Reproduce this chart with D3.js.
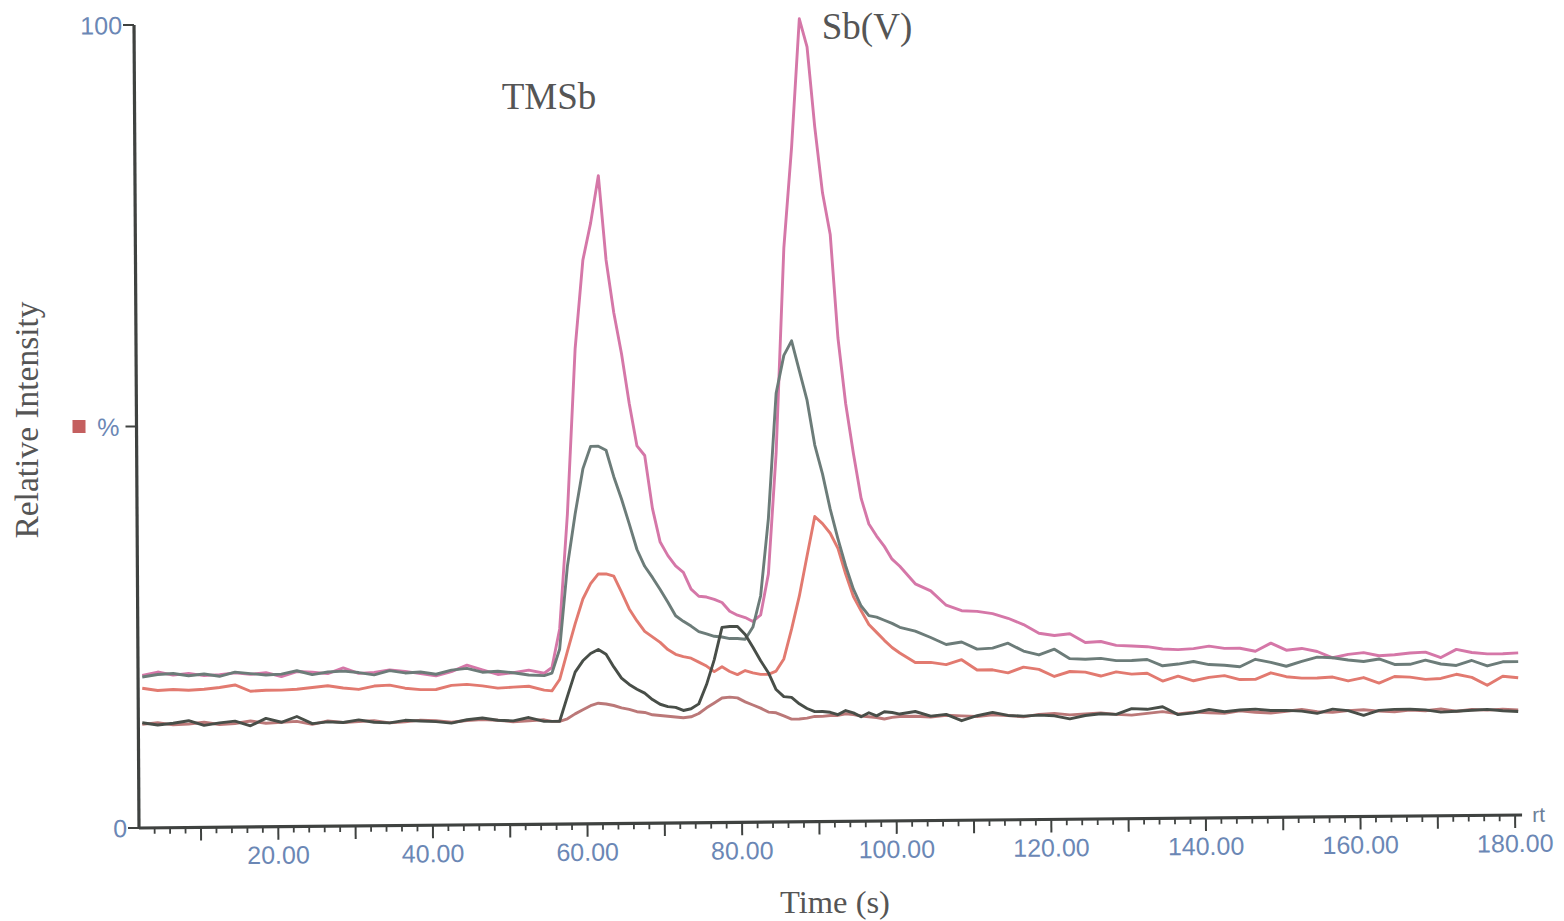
<!DOCTYPE html>
<html><head><meta charset="utf-8">
<script src="https://cdn.jsdelivr.net/npm/d3@7"></script>
<style>html,body{margin:0;padding:0;background:#fff;} svg{display:block;}</style>
</head><body><svg id="chart" width="1564" height="921"></svg>
<script>
// ---- data ----
const times = [
  2.4,4.4,6.4,8.4,10.4,12.4,14.4,16.4,18.4,20.4,22.4,24.4,26.4,28.4,30.4,32.4,34.4,36.4,38.4,40.4,42.4,44.4,46.4,48.4,50.4,52.4,54.4,
  55.4,56.4,57.4,58.4,59.4,60.4,61.4,62.4,63.4,64.4,65.4,66.4,67.4,68.4,69.4,70.4,71.4,72.4,73.4,74.4,75.4,76.4,77.4,78.4,79.4,80.4,
  81.4,82.4,83.4,84.4,85.4,86.4,87.4,88.4,89.4,90.4,91.4,92.4,93.4,94.4,95.4,96.4,97.4,98.4,99.4,100.4,
  102.4,104.4,106.4,108.4,110.4,112.4,114.4,116.4,118.4,120.4,122.4,124.4,126.4,128.4,130.4,132.4,134.4,136.4,138.4,140.4,
  142.4,144.4,146.4,148.4,150.4,152.4,154.4,156.4,158.4,160.4,162.4,164.4,166.4,168.4,170.4,172.4,174.4,176.4,178.4,180.4
];
const magentaTrace = [
  19.0,19.4,19.0,19.2,18.9,19.0,19.2,19.0,19.2,18.7,19.3,19.2,19.0,19.7,19.0,19.1,19.4,19.2,18.9,18.6,19.1,19.9,19.3,18.7,18.9,19.2,18.8,
  19.5,24.3,38.6,59.2,70.2,74.8,80.7,70.2,63.6,58.5,52.3,47.0,45.8,39.2,35.0,33.3,32.0,31.2,29.1,28.2,28.1,27.8,27.4,26.3,25.8,25.5,
  25.0,25.8,30.9,45.9,71.5,84.0,100,96.5,86.5,78.3,73.1,60.2,52.0,45.8,40.2,37.0,35.5,34.2,32.6,31.7,
  29.5,28.6,26.8,26.1,26.0,25.7,25.1,24.3,23.2,22.9,23.1,22.0,22.1,21.6,21.5,21.4,21.1,21.0,21.1,21.4,
  21.1,21.1,20.7,21.7,20.8,21.0,20.6,19.8,20.2,20.4,20.0,20.1,20.3,20.4,19.7,20.7,20.3,20.1,20.1,20.2
];
const slateTrace = [
  18.8,19.1,19.2,18.9,19.1,18.8,19.3,19.1,18.9,19.0,19.4,18.9,19.2,19.3,19.1,18.8,19.3,19.0,19.1,18.8,19.3,19.5,19.0,19.1,18.9,18.6,18.5,
  18.8,21.8,32.1,38.6,44.2,47.0,47.0,46.5,43.2,40.4,37.3,34.1,32.0,30.6,29.1,27.5,25.8,25.1,24.5,23.8,23.5,23.2,23.1,22.9,22.9,22.8,
  24.3,28.2,37.8,53.4,58.1,59.9,56.2,52.5,46.9,43.3,38.9,35.2,31.8,28.9,26.8,25.6,25.4,25.0,24.6,24.1,
  23.6,22.8,21.9,22.2,21.3,21.4,22.0,21.0,20.5,21.2,20.0,19.9,20.0,19.7,19.7,19.8,19.0,19.2,19.5,19.1,
  19.0,18.8,19.7,19.3,18.8,19.4,19.9,19.8,19.5,19.3,19.6,18.9,18.9,19.4,18.9,18.7,19.3,18.6,19.1,19.1
];
const salmonTrace = [
  17.4,17.1,17.2,17.1,17.2,17.4,17.7,16.9,17.0,17.0,17.1,17.3,17.5,17.2,17.0,17.4,17.5,17.1,16.9,16.9,17.4,17.5,17.3,17.0,17.1,17.2,16.7,
  16.6,18.0,21.5,24.9,28.0,29.9,31.1,31.1,30.8,28.8,26.7,25.2,23.9,23.2,22.5,21.6,21.0,20.7,20.5,20.0,19.5,18.8,19.4,18.8,18.4,18.9,
  18.6,18.4,18.4,18.8,20.3,24.0,28.1,33.1,38.0,37.1,35.9,34.0,30.8,28.0,26.2,24.5,23.5,22.5,21.6,20.9,
  19.7,19.7,19.4,20.0,18.7,18.7,18.3,19.0,18.7,17.8,18.4,18.3,17.8,18.3,18.0,18.1,17.1,17.7,17.1,17.5,
  17.7,17.2,17.2,18.0,17.5,17.3,17.3,17.4,16.9,17.3,16.6,17.4,17.3,17.0,17.1,17.6,17.2,16.2,17.3,17.1
];
const darkTrace = [
  13.1,12.8,13.0,13.3,12.7,13.0,13.2,12.6,13.5,13.0,13.7,12.8,13.0,12.9,13.2,12.9,12.8,13.1,13.0,12.9,12.7,13.1,13.3,13.0,12.9,13.3,12.8,
  12.8,12.8,15.9,18.9,20.3,21.2,21.7,21.1,19.5,18.1,17.3,16.7,16.2,15.4,14.8,14.5,14.4,14.0,14.2,14.8,17.2,20.3,24.3,24.4,24.4,23.4,
  21.8,20.1,18.6,16.5,15.6,15.5,14.7,14.1,13.7,13.7,13.6,13.3,13.8,13.5,13.0,13.5,13.1,13.6,13.5,13.3,
  13.6,13.0,13.2,12.4,13.0,13.4,13.0,12.9,13.0,12.9,12.5,12.9,13.1,13.0,13.7,13.6,13.9,12.9,13.1,13.5,
  13.2,13.4,13.5,13.3,13.3,13.2,12.9,13.4,13.2,12.6,13.2,13.3,13.3,13.2,12.9,13.0,13.1,13.2,13.0,12.9
];
const roseTrace = [
  12.9,13.1,12.8,12.9,13.1,12.8,12.9,13.2,12.9,13.0,13.1,12.7,13.1,12.9,13.0,13.1,12.8,12.9,13.1,13.0,12.8,13.0,13.1,13.0,12.8,12.9,13.0,
  12.8,12.8,13.1,13.7,14.2,14.7,15.0,14.9,14.7,14.4,14.2,13.9,13.8,13.5,13.4,13.3,13.2,13.1,13.2,13.6,14.3,14.9,15.5,15.6,15.5,15.0,
  14.6,14.2,13.7,13.6,13.2,12.8,12.8,12.9,13.1,13.1,13.2,13.2,13.4,13.3,13.1,13.0,12.9,12.7,12.9,13.0,
  13.0,12.9,13.1,13.0,12.9,13.1,13.0,12.8,13.1,13.2,13.0,13.1,13.2,13.0,12.9,13.1,13.3,13.0,13.2,13.1,
  13.0,13.3,13.1,13.0,13.2,13.4,13.1,13.0,13.2,13.3,13.1,13.0,13.2,13.1,13.3,13.0,13.2,13.1,13.2,13.1
];
const xMajorTicks = [10,20,30,40,50,60,70,80,90,100,110,120,130,140,150,160,170,180];
const xLabelTicks = [20,40,60,80,100,120,140,160,180];
const xMinorTicks = [4,6,8,12,14,16,18,22,24,26,28,32,34,36,38,42,44,46,48,52,54,56,58,62,64,66,68,72,74,76,78,82,84,86,88,92,94,96,98,102,104,106,108,112,114,116,118,122,124,126,128,132,134,136,138,142,144,146,148,152,154,156,158,162,164,166,168,172,174,176,178];
const yTicks = [0, 50, 100];
const yTickLabels = ["0", "%", "100"];
const annotations = [{text: "TMSb"}, {text: "Sb(V)"}];

// ---- drawing ----
const svg = d3.select("#chart");
svg.append("rect").attr("width", 1564).attr("height", 921).attr("fill", "#fff");

// scanned page is slightly skewed: axes frame sheared, traces only tilted
const plot = svg.append("g").attr("transform", "matrix(1,-0.0094,0.0062,1,139,828)");
const tracesG = svg.append("g").attr("transform", "matrix(1,-0.0094,0,1,139,828)");
const x = d3.scaleLinear().domain([0, 180]).range([-15.3, 1376.1]);
const y = d3.scaleLinear().domain([0, 100]).range([0, -803]);

const tickColor = "#6b87b5";
const axisColor = "#3f4240";

// traces
const series = [
  {vals: roseTrace, color: "#bb7878"},
  {vals: salmonTrace, color: "#e27a70"},
  {vals: magentaTrace, color: "#d577a8"},
  {vals: slateTrace, color: "#6c7c79"},
  {vals: darkTrace, color: "#484e48"}
];
const line = d3.line().x((d, i) => x(times[i])).y(d => y(d));
tracesG.selectAll("path.trace").data(series).enter().append("path")
  .attr("class", "trace")
  .attr("d", d => line(d.vals))
  .attr("fill", "none")
  .attr("stroke", d => d.color)
  .attr("stroke-width", 2.9)
  .attr("stroke-linejoin", "round");

// x axis
const xAxisG = plot.append("g");
xAxisG.append("line").attr("x1", 0).attr("x2", x(180.9)).attr("y1", 0).attr("y2", 0)
  .attr("stroke", axisColor).attr("stroke-width", 3.2);
xAxisG.selectAll("line.minor").data(xMinorTicks).enter().append("line")
  .attr("x1", d => x(d)).attr("x2", d => x(d)).attr("y1", 0).attr("y2", 6)
  .attr("stroke", axisColor).attr("stroke-width", 1.8);
xAxisG.selectAll("line.major").data(xMajorTicks).enter().append("line")
  .attr("x1", d => x(d)).attr("x2", d => x(d)).attr("y1", 0).attr("y2", 13)
  .attr("stroke", axisColor).attr("stroke-width", 2);
xAxisG.selectAll("text.xl").data(xLabelTicks).enter().append("text")
  .attr("x", d => x(d)).attr("y", 37)
  .attr("text-anchor", "middle")
  .attr("font-family", "Liberation Sans, Arial, sans-serif")
  .attr("font-size", 25).attr("fill", tickColor)
  .text(d => d3.format(".2f")(d));
xAxisG.append("text").attr("x", x(182.2)).attr("y", 7)
  .attr("font-family", "Liberation Sans, Arial, sans-serif")
  .attr("font-size", 21).attr("fill", "#6d7f98").text("rt");

// y axis
const yAxisG = plot.append("g");
yAxisG.append("line").attr("x1", 0).attr("x2", 0).attr("y1", 1).attr("y2", y(100))
  .attr("stroke", axisColor).attr("stroke-width", 3.2);
yAxisG.selectAll("line.yt").data(yTicks).enter().append("line")
  .attr("x1", -11).attr("x2", 0).attr("y1", d => y(d)).attr("y2", d => y(d))
  .attr("stroke", axisColor).attr("stroke-width", 2);
yAxisG.selectAll("text.yl").data(yTicks).enter().append("text")
  .attr("x", (d, i) => i === 1 ? -17 : -12).attr("y", d => y(d) + 9)
  .attr("text-anchor", "end")
  .attr("font-family", "Liberation Sans, Arial, sans-serif")
  .attr("font-size", 25).attr("fill", tickColor)
  .text((d, i) => yTickLabels[i]);
yAxisG.append("rect").attr("x", -64).attr("y", y(50) - 7).attr("width", 13).attr("height", 13)
  .attr("fill", "#c45f5f");

// titles
const serif = "Liberation Serif, Times New Roman, serif";
svg.append("text").attr("transform", "translate(38,420) rotate(-90)")
  .attr("text-anchor", "middle").attr("font-family", serif)
  .attr("font-size", 33.5).attr("fill", "#555").text("Relative Intensity");
svg.append("text").attr("x", 835).attr("y", 913)
  .attr("text-anchor", "middle").attr("font-family", serif)
  .attr("font-size", 32.5).attr("fill", "#555").text("Time (s)");
svg.append("text").attr("x", 549).attr("y", 109)
  .attr("text-anchor", "middle").attr("font-family", serif)
  .attr("font-size", 37).attr("fill", "#555").text(annotations[0].text);
svg.append("text").attr("x", 867).attr("y", 39)
  .attr("text-anchor", "middle").attr("font-family", serif)
  .attr("font-size", 37).attr("fill", "#555").text(annotations[1].text);
</script>
</body></html>
